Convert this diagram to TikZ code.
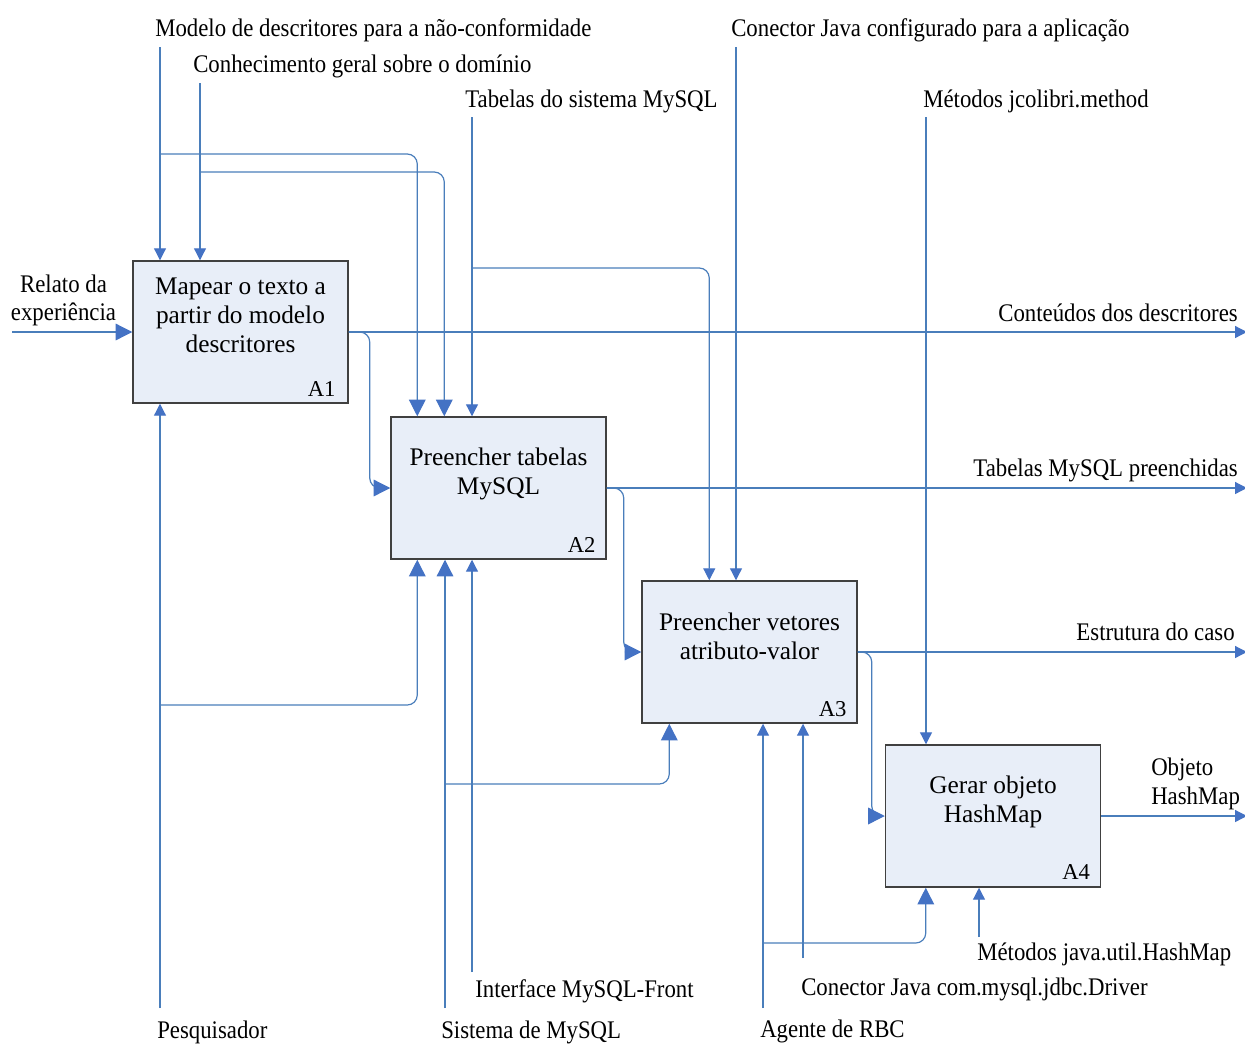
\documentclass[tikz,border=0pt]{standalone}
\usepackage{fontspec}
\setmainfont{Liberation Serif}
\newfontfamily\lblfont[FakeStretch=0.9]{Liberation Serif}
\usetikzlibrary{arrows.meta,calc}
\definecolor{ln}{RGB}{74,126,187}
\definecolor{ah}{RGB}{68,114,196}
\definecolor{bx}{RGB}{232,238,248}
\definecolor{bd}{RGB}{64,64,64}
\begin{document}
\begin{tikzpicture}[x=0.75pt,y=-0.75pt,
  box/.style={draw=bd,fill=bx,line width=1.1pt,minimum width=161.25pt,minimum height=106.5pt,inner sep=0pt},
  btxt/.style={font=\fontsize{19}{21.75}\selectfont,align=center,inner sep=0pt},
  blab/.style={font=\fontsize{17}{20}\selectfont,anchor=base east,inner sep=0pt},
  lbl/.style={font=\lblfont\fontsize{19}{21}\selectfont,inner sep=0pt,anchor=base west},
  rlbl/.style={font=\lblfont\fontsize{19}{21}\selectfont,inner sep=0pt,anchor=base east},
  con/.style={draw=ln,line width=0.9pt,rounded corners=7.5pt},
  sa/.style={con,-{Triangle[length=9pt,width=9pt,color=ah,fill=ah]}},
  ba/.style={con,-{Triangle[length=12.5pt,width=12.5pt,color=ah,fill=ah]}},
]
\fill[white] (0,0) rectangle (1245,1043);
\useasboundingbox (0,0) rectangle (1245,1043);

% boxes
\node[box] (a1) at (240.5,332) {};
\node[box] (a2) at (498.5,488) {};
\node[box] (a3) at (749.5,652) {};
\node[box] (a4) at (993,816) {};

\node[btxt] (t1) at (240.5,315.6) {Mapear o texto a\\partir do modelo\\descritores};
\node[btxt] (t2) at (498.5,474) {Preencher tabelas\\MySQL};
\node[btxt] (t3) at (749.5,636) {Preencher vetores\\atributo-valor};
\node[btxt] (t4) at (993,802) {Gerar objeto\\HashMap};

\node[blab] (l1) at ($(a1.south east)+(-13,-7)$) {A1};
\node[blab] (l2) at ($(a2.south east)+(-11,-7)$) {A2};
\node[blab] (l3) at ($(a3.south east)+(-11,-7)$) {A3};
\node[blab] (l4) at ($(a4.south east)+(-11,-8)$) {A4};

% outer labels
\node[lbl] (m1t) at (155,36) {Modelo de descritores para a não-conformidade};
\node[lbl] (m2t) at (193,72) {Conhecimento geral sobre o domínio};
\node[lbl] (m3t) at (465,107) {Tabelas do sistema MySQL};
\node[lbl] (m4t) at (731,36) {Conector Java configurado para a aplicação};
\node[lbl] (m5t) at (923,107) {Métodos jcolibri.method};
\node[font=\lblfont\fontsize{19}{21}\selectfont,inner sep=0pt,align=center] (int) at (63.5,300) {Relato da\\experiência};
\node[rlbl] (o1t) at (1238,321) {Conteúdos dos descritores};
\node[rlbl] (o2t) at (1238,476) {Tabelas MySQL preenchidas};
\node[rlbl] (o3t) at (1235,640) {Estrutura do caso};
\node[font=\lblfont\fontsize{19}{21.75}\selectfont,inner sep=0pt,align=left,anchor=west] (o4t) at (1151,783.6) {Objeto\\HashMap};
\node[lbl] (p1t) at (157,1038) {Pesquisador};
\node[lbl] (p2t) at (441,1038) {Sistema de MySQL};
\node[lbl] (p3t) at (475,997) {Interface MySQL-Front};
\node[lbl] (p4t) at (760,1037) {Agente de RBC};
\node[lbl] (p5t) at (801,995) {Conector Java com.mysql.jdbc.Driver};
\node[lbl] (p6t) at (977,960) {Métodos java.util.HashMap};

% coordinates
\coordinate (m1) at (160,47);
\coordinate (j1) at (160,154);
\coordinate (m2) at (200,83);
\coordinate (j2) at (200,172);
\coordinate (m3) at (472,117);
\coordinate (j3) at (472,268);
\coordinate (m4) at (736,47);
\coordinate (m5) at (926,117);
\coordinate (p1) at (160,1008);
\coordinate (k1) at (160,705);
\coordinate (p2) at (445,1008);
\coordinate (k2) at (445,784);
\coordinate (p3) at (472,972);
\coordinate (p4) at (763,1008);
\coordinate (k4) at (763,943);
\coordinate (p5) at (803,958);
\coordinate (p6) at (979,937);
\coordinate (in1) at (12,332);
\coordinate (o1) at (1247,332);
\coordinate (o2) at (1247,488);
\coordinate (o3) at (1247,652);
\coordinate (o4) at (1247,816);

% controls
\draw[sa] (m1) -- (m1 |- a1.north);
\draw[ba] (j1) -| ($(a2.north west)+(27,0)$);
\draw[sa] (m2) -- (m2 |- a1.north);
\draw[ba] (j2) -| ($(a2.north west)+(54,0)$);
\draw[sa] (m3) -- (m3 |- a2.north);
\draw[sa] (j3) -| ($(a3.north west)+(68,0)$);
\draw[sa] (m4) -- (m4 |- a3.north);
\draw[sa] (m5) -- (m5 |- a4.north);

% mechanisms
\draw[sa] (p1) -- (p1 |- a1.south);
\draw[ba] (k1) -| ($(a2.south west)+(27,0)$);
\draw[ba] (p2) -- (p2 |- a2.south);
\draw[ba] (k2) -| ($(a3.south west)+(28,0)$);
\draw[sa] (p3) -- (p3 |- a2.south);
\draw[sa] (p4) -- (p4 |- a3.south);
\draw[ba] (k4) -| ($(a4.south west)+(41,0)$);
\draw[sa] (p5) -- (p5 |- a3.south);
\draw[sa] (p6) -- (p6 |- a4.south);

% flows
\draw[ba] (in1) -- (a1.west);
\draw[sa] (a1.east) -- (o1);
\draw[ba] (a1.east) -- ++(21,0) |- (a2.west);
\draw[sa] (a2.east) -- (o2);
\draw[ba] (a2.east) -- ++(17,0) |- (a3.west);
\draw[sa] (a3.east) -- (o3);
\draw[ba] (a3.east) -- ++(14,0) |- (a4.west);
\draw[sa] (a4.east) -- (o4);
\end{tikzpicture}
\end{document}
